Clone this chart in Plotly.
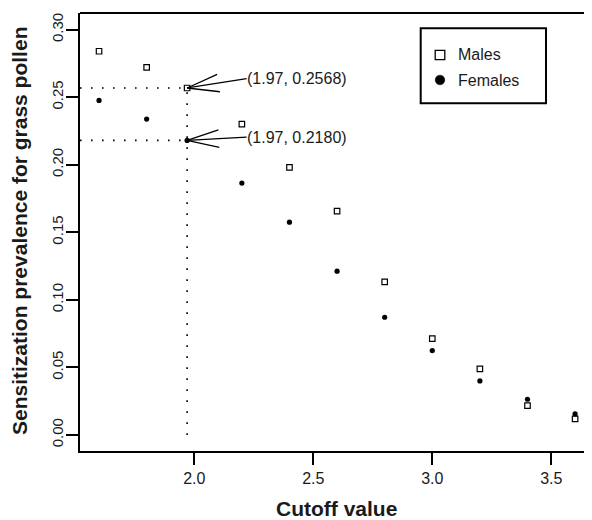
import math
import plotly.graph_objects as go

# ---------------- data ----------------
cutoff = [1.6, 1.8, 1.97, 2.2, 2.4, 2.6, 2.8, 3.0, 3.2, 3.4, 3.6]
males = [0.284, 0.272, 0.2568, 0.230, 0.198, 0.1656, 0.1133, 0.0713, 0.0489, 0.0217, 0.0119]
females = [0.2476, 0.2338, 0.2180, 0.1864, 0.1575, 0.1212, 0.0871, 0.0624, 0.0400, 0.0264, 0.0156]

series_names = ["Males", "Females"]
highlight_index = 2                      # the 1.97 cutoff
highlight_labels = ["(1.97, 0.2568)", "(1.97, 0.2180)"]
label_x = 2.22                           # arrow tail / label anchor (data units)
label_y = [0.2637, 0.2204]

x_ticks = [2.0, 2.5, 3.0, 3.5]
y_ticks = [0.00, 0.05, 0.10, 0.15, 0.20, 0.25, 0.30]

x_title = "Cutoff value"
y_title = "Sensitization prevalence for grass pollen"

# ---------------- layout constants ----------------
OFF = 8                      # default page body margin of the html page
W, H = 592 - OFF, 520 - OFF
M = dict(l=80 - OFF, r=0, t=13 - OFF, b=69)
X_RANGE = [1.52, 3.671]
Y_RANGE = [-0.0119, 0.3123]
FONT = "Liberation Sans, Arial, Helvetica, sans-serif"
TXT = "#1a1a1a"

plot_w = W - M["l"] - M["r"]
plot_h = H - M["t"] - M["b"]
kx = plot_w / (X_RANGE[1] - X_RANGE[0])
ky = plot_h / (Y_RANGE[1] - Y_RANGE[0])


def pxx(p):   # page pixel x -> paper x
    return (p - OFF - M["l"]) / plot_w


def pxy(p):   # page pixel y -> paper y
    return 1 - (p - OFF - M["t"]) / plot_h


fig = go.Figure()

hx = cutoff[highlight_index]
hys = [males[highlight_index], females[highlight_index]]

# dotted guide lines
dot = dict(color="black", width=1.6, dash="1.6px,9.4px")
for hy in hys:
    fig.add_trace(go.Scatter(x=[X_RANGE[0], hx], y=[hy, hy], mode="lines",
                             line=dot, showlegend=False, hoverinfo="skip"))
fig.add_trace(go.Scatter(x=[hx, hx], y=[0, max(hys)], mode="lines",
                         line=dot, showlegend=False, hoverinfo="skip"))

# arrows with open heads
HEAD_LEN = 33
HEAD_ANG = math.radians(15.5)
for hy, ty in zip(hys, label_y):
    dx = (label_x - hx) * kx
    dy = -(ty - hy) * ky
    a = math.atan2(dy, dx)
    pts = []
    for s in (-HEAD_ANG, HEAD_ANG):
        px = HEAD_LEN * math.cos(a + s)
        py = HEAD_LEN * math.sin(a + s)
        pts.append((hx + px / kx, hy - py / ky))
    xs = [pts[0][0], hx, pts[1][0], None, hx, label_x]
    ys = [pts[0][1], hy, pts[1][1], None, hy, ty]
    fig.add_trace(go.Scatter(x=xs, y=ys, mode="lines",
                             line=dict(color="black", width=1.3),
                             showlegend=False, hoverinfo="skip"))

# data points
fig.add_trace(go.Scatter(x=cutoff, y=males, mode="markers", name=series_names[0],
                         marker=dict(symbol="square-open", size=5.5, color="black",
                                     line=dict(width=1.2, color="black")),
                         showlegend=False))
fig.add_trace(go.Scatter(x=cutoff, y=females, mode="markers", name=series_names[1],
                         marker=dict(symbol="circle", size=5.2, color="black"),
                         showlegend=False))

# labels
for lab, ty in zip(highlight_labels, label_y):
    fig.add_annotation(x=label_x, y=ty, text=lab, showarrow=False,
                       xanchor="left", yanchor="middle", xshift=-2,
                       font=dict(family=FONT, size=16, color=TXT))

# axis titles
fig.add_annotation(xref="paper", yref="paper", x=0.5, y=0, yshift=-57,
                   xanchor="center", yanchor="middle", text=x_title, showarrow=False,
                   font=dict(family=FONT, size=21, color=TXT, weight="bold"))
fig.add_annotation(xref="paper", yref="paper", x=pxx(20), y=pxy(231),
                   xanchor="center", yanchor="middle", text=y_title, textangle=-90,
                   showarrow=False,
                   font=dict(family=FONT, size=21, color=TXT, weight="bold"))

# frame: top edge
fig.add_shape(type="line", xref="paper", yref="paper", x0=0, x1=1, y0=1, y1=1,
              line=dict(color="black", width=2))

# legend key (box, symbols, texts)
fig.add_shape(type="rect", xref="paper", yref="paper",
              x0=pxx(420.7), x1=pxx(546), y0=pxy(103.3), y1=pxy(28.3),
              line=dict(color="black", width=2))
fig.add_shape(type="rect", xref="paper", yref="paper",
              x0=pxx(435.2), x1=pxx(444.8), y0=pxy(59.6), y1=pxy(50.4),
              line=dict(color="black", width=1.3))
fig.add_shape(type="circle", xref="paper", yref="paper",
              x0=pxx(435.2), x1=pxx(444.8), y0=pxy(84.8), y1=pxy(75.2),
              line=dict(color="black", width=0.5), fillcolor="black")
for name, yy in zip(series_names, [55, 80]):
    fig.add_annotation(xref="paper", yref="paper", x=pxx(456), y=pxy(yy),
                       xanchor="left", yanchor="middle", text=name, showarrow=False,
                       font=dict(family=FONT, size=16, color=TXT))

fig.update_layout(
    width=W, height=H, margin=M,
    paper_bgcolor="white", plot_bgcolor="white",
    font=dict(family=FONT, color=TXT),
    showlegend=False,
)
fig.update_xaxes(range=X_RANGE, tickvals=x_ticks, tickformat=".1f",
                 showgrid=False, zeroline=False, showline=True,
                 linecolor="black", linewidth=2, ticks="outside", ticklen=12,
                 tickwidth=2, tickcolor="black",
                 tickfont=dict(family=FONT, size=16, color=TXT))
fig.update_yaxes(range=Y_RANGE, tickvals=y_ticks, tickformat=".2f", tickangle=-90,
                 showgrid=False, zeroline=False, showline=True,
                 linecolor="black", linewidth=2, ticks="outside", ticklen=12,
                 tickwidth=2, tickcolor="black", ticklabelstandoff=-3,
                 tickfont=dict(family=FONT, size=15, color=TXT))

fig.write_html("out.html")
